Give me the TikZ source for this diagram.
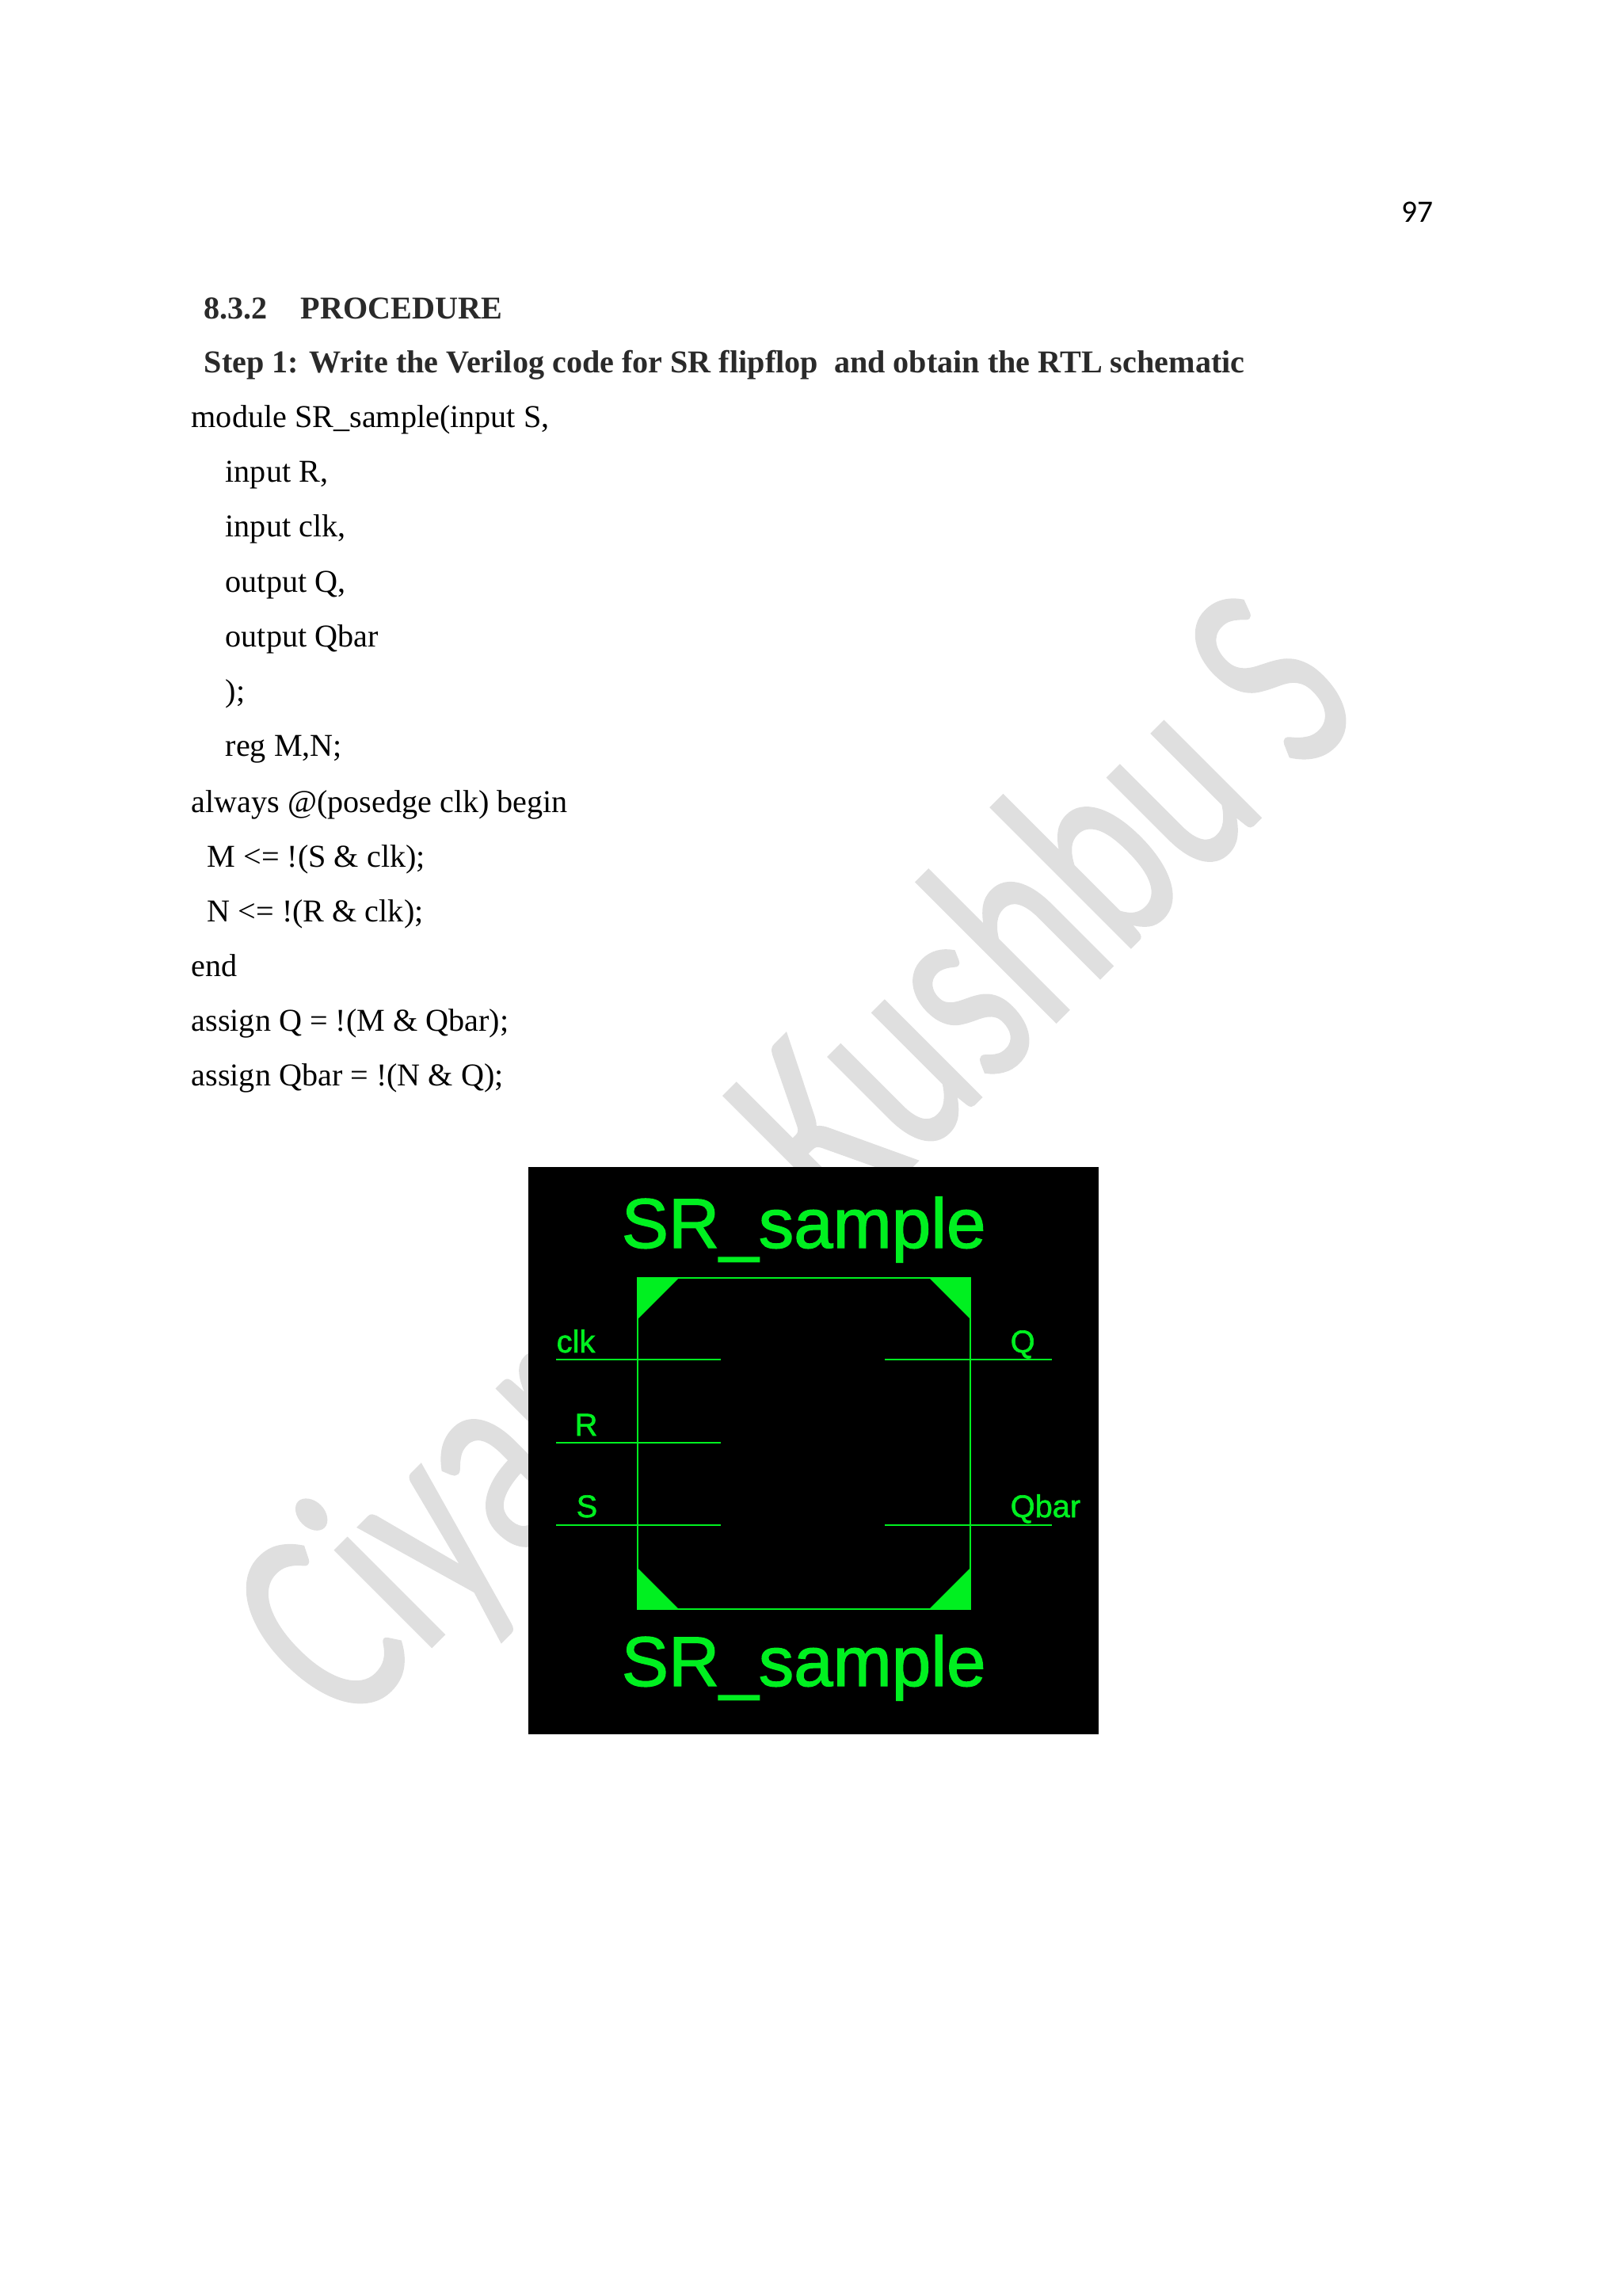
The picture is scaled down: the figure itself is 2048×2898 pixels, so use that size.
\documentclass[tikz,border=0pt]{standalone}
\usepackage{fontspec}
\usepackage{xcolor}
\setmainfont{Liberation Serif}
\newfontfamily\pagefont{Carlito}
\newfontfamily\markfont[FakeBold=1]{Carlito}
\newfontfamily\schfont[FakeBold=1.5]{Liberation Sans}
\definecolor{schgreen}{HTML}{00F020}
\definecolor{markgray}{HTML}{DFDFDF}
\definecolor{headgray}{HTML}{2A2A2A}
\tikzset{
    bodytext/.style={anchor=base west, inner sep=0pt, text=black, font=\fontsize{11.42}{14}\selectfont},
    headtext/.style={anchor=base west, inner sep=0pt, text=headgray, font=\fontsize{11.42}{14}\selectfont\bfseries},
    pinlabel/.style={anchor=base west, inner sep=0pt, text=schgreen, font=\schfont\fontsize{11.3}{14}\selectfont},
    schtitle/.style={anchor=base west, inner sep=0pt, text=schgreen, font=\schfont\fontsize{25.3}{30}\selectfont},
    schline/.style={draw=schgreen, line width=0.7pt},
    corner/.style={fill=schgreen},
    watermark/.style={anchor=base west, inner sep=0pt, rotate=45, xscale=.707, transform shape, text=markgray, font=\markfont\fontsize{102}{110}\selectfont}
}

\begin{document}
\begin{tikzpicture}[x=0.01cm, y=-0.01cm]
        \useasboundingbox (0,0) rectangle (2048,2898);

        \node[watermark] (mark) at (436,2187) {Ciyaram Kushbu S};

        \node[anchor=base west, inner sep=0pt, font=\pagefont\fontsize{11.2}{14}\selectfont] (pagenum) at (1769,281) {97};

        \node[headtext] (secnum) at (257,403) {8.3.2};
        \node[headtext] (sectitle) at (379,403) {PROCEDURE};
        \node[headtext] (step) at (257,471) {Step 1: Write the Verilog code for SR flipflop\ \ and obtain the RTL schematic};

        \node[bodytext] (code1) at (241,540) {module SR\_sample(input S,};
        \node[bodytext] (code2) at (284,609) {input R,};
        \node[bodytext] (code3) at (284,678) {input clk,};
        \node[bodytext] (code4) at (284,748) {output Q,};
        \node[bodytext] (code5) at (284,817) {output Qbar};
        \node[bodytext] (code6) at (284,886) {);};
        \node[bodytext] (code7) at (284,955) {reg M,N;};
        \node[bodytext] (code8) at (241,1025) {always @(posedge clk) begin};
        \node[bodytext] (code9) at (261,1094) {M <= !(S \& clk);};
        \node[bodytext] (code10) at (261,1163) {N <= !(R \& clk);};
        \node[bodytext] (code11) at (241,1232) {end};
        \node[bodytext] (code12) at (241,1301) {assign Q = !(M \& Qbar);};
        \node[bodytext] (code13) at (241,1370) {assign Qbar = !(N \& Q);};

        \fill[black] (667,1473) rectangle (1387,2189);

        \node[schtitle] (titletop) at (784,1575) {SR\_sample};
        \node[schtitle] (titlebot) at (784,2128) {SR\_sample};

        \node[pinlabel] (clk) at (702,1707) {clk};
        \node[pinlabel] (R) at (725,1812) {R};
        \node[pinlabel] (S) at (727,1915) {S};
        \node[pinlabel] (Q) at (1275,1707) {Q};
        \node[pinlabel] (Qbar) at (1275,1915) {Qbar};

        \coordinate (tl) at (805,1613);
        \coordinate (tr) at (1225,1613);
        \coordinate (br) at (1225,2031);
        \coordinate (bl) at (805,2031);

        \coordinate (clkout) at (702,1716);
        \coordinate (clkin) at (910,1716);
        \coordinate (Rout) at (702,1821);
        \coordinate (Rin) at (910,1821);
        \coordinate (Sout) at (702,1925);
        \coordinate (Sin) at (910,1925);
        \coordinate (Qin) at (1117,1716);
        \coordinate (Qout) at (1328,1716);
        \coordinate (Qbarin) at (1117,1925);
        \coordinate (Qbarout) at (1328,1925);

        \draw[schline] (tl) -- (tr) -- (br) -- (bl) -- cycle;
        \fill[corner] (tl) -- ++(52,0) -- ++(-52,52) -- cycle;
        \fill[corner] (tr) -- ++(-52,0) -- ++(52,52) -- cycle;
        \fill[corner] (br) -- ++(-52,0) -- ++(52,-52) -- cycle;
        \fill[corner] (bl) -- ++(52,0) -- ++(-52,-52) -- cycle;

        \draw[schline] (clkout) -- (clkin);
        \draw[schline] (Rout) -- (Rin);
        \draw[schline] (Sout) -- (Sin);
        \draw[schline] (Qin) -- (Qout);
        \draw[schline] (Qbarin) -- (Qbarout);
    \end{tikzpicture}
\end{document}
